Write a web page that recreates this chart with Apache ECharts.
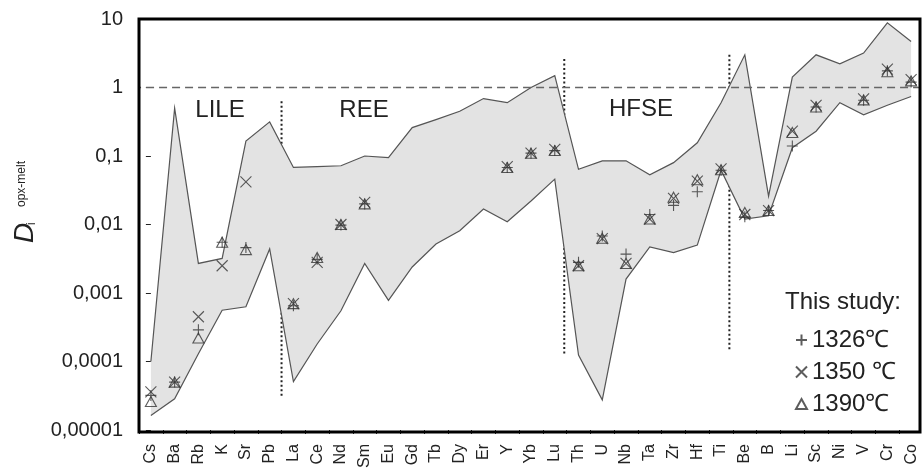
<!DOCTYPE html>
<html>
<head>
<meta charset="utf-8">
<script src="https://cdn.jsdelivr.net/npm/echarts@6/dist/echarts.min.js"></script>
<style>
  html, body { margin: 0; padding: 0; background: #fff; }
  #chart { width: 923px; height: 471px; }
</style>
</head>
<body>
<div id="chart"></div>
<script>
// Elements along the x axis
const elements = ['Cs','Ba','Rb','K','Sr','Pb','La','Ce','Nd','Sm','Eu','Gd','Tb','Dy','Er','Y','Yb','Lu',
                  'Th','U','Nb','Ta','Zr','Hf','Ti','Be','B','Li','Sc','Ni','V','Cr','Co'];

// Literature range of opx/melt partition coefficients (upper and lower envelope)
const rangeUpper = [1e-4, 0.5, 0.0027, 0.0032, 0.165, 0.315, 0.068, 0.07, 0.072, 0.1, 0.095, 0.26, 0.34, 0.45,
                    0.69, 0.6, 1.0, 1.49, 0.064, 0.085, 0.085, 0.053, 0.08, 0.156, 0.6, 3.0, 0.026, 1.42,
                    3.0, 2.22, 3.18, 8.8, 4.68];
const rangeLower = [1.63e-5, 2.85e-5, 1.3e-4, 5.6e-4, 6.3e-4, 0.0044, 5.1e-5, 1.8e-4, 5.5e-4, 0.0027, 7.8e-4,
                    0.0024, 0.0052, 0.0081, 0.0168, 0.011, 0.022, 0.046, 1.24e-4, 2.75e-5, 0.0016, 0.0047,
                    0.0039, 0.005, 0.062, 0.012, 0.0134, 0.132, 0.23, 0.6, 0.4, 0.55, 0.74];

// Partition coefficients of this study (null = not determined)
const d1326 = [3.2e-5, 5e-5, 2.9e-4, 0.0055, 0.0046, null, 6.5e-4, 0.0031, 0.0098, 0.02, null, null, null, null,
               null, 0.068, 0.11, 0.12, 0.0028, 0.0068, 0.0037, 0.014, 0.019, 0.03, 0.062, 0.013, 0.016, 0.14,
               0.52, null, 0.65, 1.75, 1.2];
const d1350 = [3.6e-5, 5e-5, 4.5e-4, 0.0025, 0.042, null, 7e-4, 0.0028, 0.01, 0.021, null, null, null, null,
               null, 0.07, 0.11, 0.125, 0.0025, 0.0062, 0.0027, 0.012, 0.024, 0.043, 0.065, 0.014, 0.016, 0.23,
               0.55, null, 0.68, 1.85, 1.3];
const d1390 = [2.6e-5, 5e-5, 2.2e-4, 0.0055, 0.0043, null, 7e-4, 0.0033, 0.01, 0.02, null, null, null, null,
               null, 0.068, 0.11, 0.12, 0.0025, 0.0063, 0.0027, 0.012, 0.025, 0.045, 0.063, 0.015, 0.016, 0.22,
               0.52, null, 0.66, 1.7, 1.25];

const seriesNames = ['1326℃', '1350 ℃', '1390℃'];
const yTickLabels = ['0,00001', '0,0001', '0,001', '0,01', '0,1', '1', '10'];

// Group dividers: x position (in category units), top and bottom value
const dividers = [
  [5.5, 0.63, 2.9e-5],
  [17.4, 2.6, 1.24e-4],
  [24.35, 3.0, 1.4e-4]
];
const groupLabels = ['LILE', 'REE', 'HFSE'];

const FONT = '"Liberation Sans", Arial, Helvetica, sans-serif';
const INK = '#333';

const chart = echarts.init(document.getElementById('chart'));

const symPlus = 'path://M0,5.5L11,5.5M5.5,0L5.5,11';
const symCross = 'path://M0,0L10,10M10,0L0,10';
const symTri = 'path://M5.5,0L11,10L0,10Z';

function markerSeries(name, data, symbol, size) {
  return {
    name: name,
    type: 'scatter',
    xAxisIndex: 0,
    yAxisIndex: 0,
    z: 5,
    symbol: symbol,
    symbolSize: size,
    itemStyle: { color: 'transparent', borderColor: INK, borderWidth: 1.1 },
    data: data.map((v, i) => (v == null ? null : [i, v]))
  };
}

const dividerSeries = dividers.map(d => ({
  type: 'line',
  xAxisIndex: 1,
  yAxisIndex: 0,
  z: 1,
  silent: true,
  symbol: 'none',
  lineStyle: { color: '#222', width: 2, type: [2, 2.5] },
  data: [[d[0], d[1]], [d[0], d[2]]]
}));

const option = {
  animation: false,
  grid: { left: 139, top: 19, width: 785, height: 413 },
  xAxis: [
    {
      type: 'category',
      data: elements,
      boundaryGap: true,
      axisLine: { show: false },
      axisTick: { show: true, length: 4, interval: 0, lineStyle: { color: '#222', width: 1 } },
      axisLabel: { interval: 0, rotate: 90, margin: 14, fontSize: 16, fontFamily: FONT, color: '#222' },
      splitLine: { show: false }
    },
    {
      type: 'value',
      min: -0.5,
      max: 32.5,
      show: false
    }
  ],
  yAxis: {
    type: 'log',
    logBase: 10,
    min: 1e-5,
    max: 10,
    axisLine: { show: false },
    axisTick: { show: true, length: 5, lineStyle: { color: '#222', width: 1 } },
    axisLabel: {
      margin: 16,
      fontSize: 20,
      fontFamily: FONT,
      color: '#222',
      formatter: v => yTickLabels[Math.round(Math.log10(v)) + 5]
    },
    splitLine: { show: false }
  },
  title: {
    text: 'This study:',
    left: 780,
    top: 285,
    textStyle: { fontSize: 24, fontWeight: 'normal', fontFamily: FONT, color: '#222' }
  },
  legend: {
    orient: 'vertical',
    left: 790,
    top: 323,
    itemWidth: 11,
    itemHeight: 11,
    itemGap: 8,
    selectedMode: false,
    textStyle: { fontSize: 24, lineHeight: 24, fontFamily: FONT, color: '#222' },
    data: seriesNames
  },
  graphic: [
    {
      type: 'rect',
      z: 10,
      silent: true,
      shape: { x: 139, y: 19, width: 781, height: 413 },
      style: { fill: null, stroke: '#000', lineWidth: 3 }
    },
    {
      type: 'text', x: 25, y: 243, rotation: Math.PI / 2, silent: true,
      style: { text: 'D', font: 'italic 28px ' + FONT, fill: '#222', align: 'left', verticalAlign: 'middle' }
    },
    {
      type: 'text', x: 22, y: 207, rotation: Math.PI / 2, silent: true,
      style: { text: 'opx-melt', font: '12px ' + FONT, fill: '#222', align: 'left', verticalAlign: 'middle' }
    },
    {
      type: 'text', x: 32, y: 225, rotation: Math.PI / 2, silent: true,
      style: { text: 'i', font: '12px ' + FONT, fill: '#222', align: 'left', verticalAlign: 'middle' }
    },
    {
      type: 'text', x: 220, y: 110, silent: true,
      style: { text: groupLabels[0], font: '24px ' + FONT, fill: '#222', align: 'center', verticalAlign: 'middle' }
    },
    {
      type: 'text', x: 364, y: 110, silent: true,
      style: { text: groupLabels[1], font: '24px ' + FONT, fill: '#222', align: 'center', verticalAlign: 'middle' }
    },
    {
      type: 'text', x: 641, y: 109, silent: true,
      style: { text: groupLabels[2], font: '24px ' + FONT, fill: '#222', align: 'center', verticalAlign: 'middle' }
    }
  ],
  series: [
    ...dividerSeries,
    {
      // shaded literature range
      type: 'custom',
      xAxisIndex: 0,
      yAxisIndex: 0,
      z: 2,
      silent: true,
      data: elements.map((e, i) => [i, rangeUpper[i], rangeLower[i]]),
      encode: { x: 0, y: [1, 2] },
      renderItem: function (params, api) {
        if (params.dataIndex !== 0) return null;
        const top = rangeUpper.map((v, i) => api.coord([i, v]));
        const bot = rangeLower.map((v, i) => api.coord([i, v]));
        return {
          type: 'group',
          children: [
            { type: 'polygon', shape: { points: top.concat(bot.slice().reverse()) },
              style: { fill: '#e3e3e3', stroke: null } },
            { type: 'polyline', shape: { points: top },
              style: { fill: null, stroke: '#555', lineWidth: 1.2 } },
            { type: 'polyline', shape: { points: bot },
              style: { fill: null, stroke: '#555', lineWidth: 1.2 } }
          ]
        };
      }
    },
    {
      // D = 1 reference line
      type: 'line',
      xAxisIndex: 1,
      yAxisIndex: 0,
      z: 3,
      silent: true,
      clip: false,
      symbol: 'none',
      lineStyle: { color: '#666', width: 1.5, type: [8, 5] },
      data: [[-0.75, 1], [32.33, 1]]
    },
    markerSeries(seriesNames[0], d1326, symPlus, 11),
    markerSeries(seriesNames[1], d1350, symCross, 11),
    markerSeries(seriesNames[2], d1390, symTri, [11, 10])
  ]
};

chart.setOption(option);
</script>
</body>
</html>
